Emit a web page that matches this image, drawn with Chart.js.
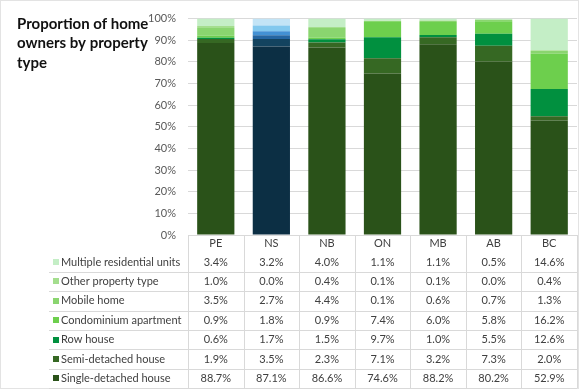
<!DOCTYPE html>
<html>
<head>
<meta charset="utf-8">
<script src="https://cdn.jsdelivr.net/npm/chart.js@4/dist/chart.umd.min.js"></script>
<style>
html,body{margin:0;padding:0;background:#fff;}
#wrap{position:relative;width:579px;height:389px;}
</style>
</head>
<body>
<div id="wrap"><canvas id="c" width="579" height="389"></canvas></div>
<script>
const categories = ['PE','NS','NB','ON','MB','AB','BC'];
const titleLines = ['Proportion of home','owners by property','type'];
const seriesNames = ['Single-detached house','Semi-detached house','Row house','Condominium apartment','Mobile home','Other property type','Multiple residential units'];
const singleDetached = [88.7,87.1,86.6,74.6,88.2,80.2,52.9];
const semiDetached   = [1.9,3.5,2.3,7.1,3.2,7.3,2.0];
const rowHouse       = [0.6,1.7,1.5,9.7,1.0,5.5,12.6];
const condominium    = [0.9,1.8,0.9,7.4,6.0,5.8,16.2];
const mobileHome     = [3.5,2.7,4.4,0.1,0.6,0.7,1.3];
const otherType      = [1.0,0.0,0.4,0.1,0.1,0.0,0.4];
const multipleUnits  = [3.4,3.2,4.0,1.1,1.1,0.5,14.6];
const seriesValues = [singleDetached,semiDetached,rowHouse,condominium,mobileHome,otherType,multipleUnits];
const greens = ['#2a5219','#366823','#01903f','#6dcf4d','#8ad56f','#a4de8e','#c4eec6'];
const blues  = ['#0c2f44','#13435f','#2566a2','#4391d4','#82c8ee','#a9d8f2','#c3e4f6'];
const highlight = 'NS';

const FONT = 'Lato, "Open Sans", sans-serif';

const datasets = seriesNames.map((name,i)=>({
  label: name,
  data: seriesValues[i],
  backgroundColor: categories.map(c => c===highlight ? blues[i] : greens[i]),
  borderWidth: 0,
  barPercentage: 0.67,
  categoryPercentage: 1.0
}));

const tablePlugin = {
  id: 'tablePlugin',
  beforeDraw(chart){
    const ctx = chart.ctx;
    ctx.save();
    ctx.fillStyle = '#fff';
    ctx.fillRect(0,0,chart.width,chart.height);
    ctx.restore();
  },
  afterDraw(chart){
    const ctx = chart.ctx;
    const xs = chart.scales.x;
    const area = chart.chartArea;
    ctx.save();
    // outer border
    ctx.strokeStyle = '#e3e3e3';
    ctx.lineWidth = 1;
    ctx.strokeRect(0.5,0.5,chart.width-1,chart.height-1);
    // title
    ctx.fillStyle = '#111';
    ctx.font = 'bold 15px ' + FONT;
    ctx.textAlign = 'left';
    ctx.textBaseline = 'middle';
    titleLines.forEach((t,i)=> ctx.fillText(t, 17, 24 + i*19.5));
    // table grid
    const rowH = 19.4;
    const firstRow = 262;
    const tableTop = area.bottom;
    const nRows = seriesNames.length;
    const tableBottom = firstRow - rowH/2 + rowH*nRows;
    ctx.strokeStyle = '#d9d9d9';
    ctx.beginPath();
    for (let k=0;k<=categories.length;k++){
      const x = Math.round(area.left + k*(area.right-area.left)/categories.length) + 0.5;
      ctx.moveTo(x, tableTop);
      ctx.lineTo(x, tableBottom);
    }
    for (let r=0;r<nRows;r++){
      const y = Math.round(firstRow - rowH/2 + rowH*(r+1)) + 0.5;
      ctx.moveTo(49, y);
      ctx.lineTo(area.right, y);
    }
    ctx.stroke();
    // header
    ctx.fillStyle = '#404040';
    ctx.font = '11px ' + FONT;
    ctx.textAlign = 'center';
    categories.forEach((c,j)=> ctx.fillText(c, xs.getPixelForValue(j), 243));
    // rows (top row = last series)
    for (let r=0;r<nRows;r++){
      const si = nRows-1-r;
      const y = firstRow + r*rowH;
      ctx.fillStyle = greens[si];
      ctx.fillRect(53, Math.round(y-3), 6, 6);
      ctx.fillStyle = '#404040';
      ctx.textAlign = 'left';
      ctx.fillText(seriesNames[si], 61, y);
      ctx.textAlign = 'center';
      seriesValues[si].forEach((v,j)=> ctx.fillText(v.toFixed(1)+'%', xs.getPixelForValue(j), y));
    }
    ctx.restore();
  }
};

new Chart(document.getElementById('c'), {
  type: 'bar',
  data: { labels: categories, datasets },
  options: {
    responsive: false,
    animation: false,
    layout: { padding: { top: 10, right: 2, left: 0, bottom: 0 } },
    plugins: { legend: { display: false }, tooltip: { enabled: false }, title: { display: false } },
    scales: {
      x: {
        stacked: true,
        grid: { display: false, drawTicks: false },
        border: { display: true, color: '#d9d9d9' },
        ticks: { display: false },
        afterFit(scale){ scale.height = 154; }
      },
      y: {
        stacked: true,
        min: 0, max: 100,
        grid: { color: '#d9d9d9', drawTicks: false },
        border: { display: false },
        ticks: {
          stepSize: 10,
          padding: 12,
          color: '#595959',
          font: { family: FONT, size: 11 },
          callback: v => v + '%'
        },
        afterFit(scale){ scale.width = 188; }
      }
    }
  },
  plugins: [tablePlugin]
});
</script>
</body>
</html>
